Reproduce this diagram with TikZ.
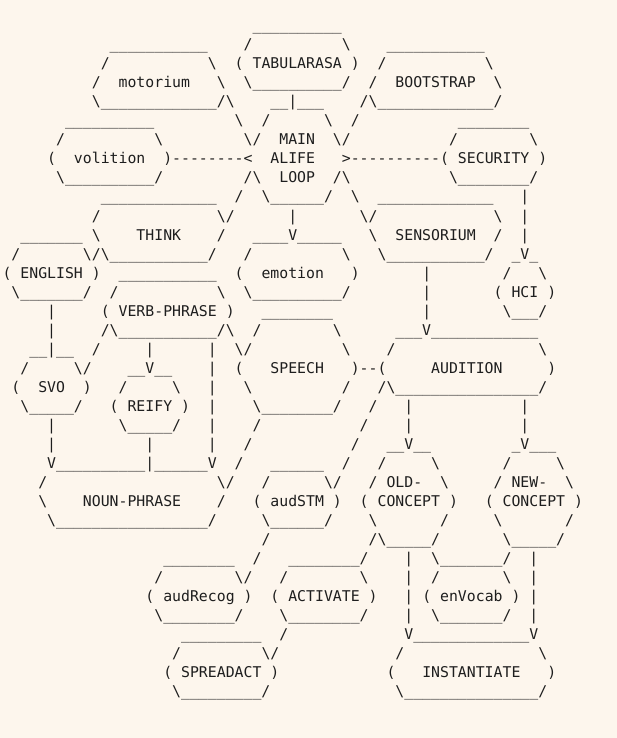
\documentclass[tikz,border=0pt]{standalone}
\usepackage{fontspec}
\usepackage{xcolor}
\usepackage{tikz}
\newfontfamily\asciifont{DejaVu Sans Mono}
\definecolor{paper}{RGB}{253,246,237}
\definecolor{ink}{RGB}{30,30,30}
\newcommand\bs{\textbackslash}
\newcommand\us[1]{\foreach\i in {1,...,#1}{\_}}
\tikzset{
  asc/.style={anchor=base west,inner sep=0pt,outer sep=0pt,text=ink,
    font=\asciifont\fontsize{14.83pt}{19pt}\selectfont},
}
% one piece of the ascii frame: column, row, characters
\newcommand\ch[3]{\node[asc] (g#1-#2) at (#1,#2) {#3};}

\begin{document}
\begin{tikzpicture}[x=8.93pt,y=-19pt]
  \fill[paper] (-2.535pt,31pt) rectangle (614.465pt,-707pt);
  \useasboundingbox (-2.535pt,31pt) rectangle (614.465pt,-707pt);
%% frame, row by row
  % row 0-4
  \ch{28}{0}{\us{10}}
  \ch{12}{1}{\us{11}} \ch{27}{1}{/} \ch{38}{1}{\bs} \ch{43}{1}{\us{11}}
  \ch{11}{2}{/} \ch{23}{2}{\bs} \ch{26}{2}{(} \ch{39}{2}{)} \ch{42}{2}{/} \ch{54}{2}{\bs}
  \ch{10}{3}{/} \ch{24}{3}{\bs} \ch{27}{3}{\bs\us{10}/} \ch{41}{3}{/} \ch{55}{3}{\bs}
  \ch{10}{4}{\bs\us{13}/\bs} \ch{30}{4}{\us{2}|\us{3}} \ch{40}{4}{/\bs\us{13}/}
  % row 5-10
  \ch{7}{5}{\us{10}} \ch{26}{5}{\bs} \ch{29}{5}{/} \ch{36}{5}{\bs} \ch{39}{5}{/} \ch{51}{5}{\us{8}}
  \ch{6}{6}{/} \ch{17}{6}{\bs} \ch{27}{6}{\bs/} \ch{37}{6}{\bs/} \ch{50}{6}{/} \ch{59}{6}{\bs}
  \ch{5}{7}{(} \ch{18}{7}{)--------<} \ch{38}{7}{>----------(} \ch{60}{7}{)}
  \ch{6}{8}{\bs\us{10}/} \ch{27}{8}{/\bs} \ch{37}{8}{/\bs} \ch{50}{8}{\bs\us{8}/}
  \ch{11}{9}{\us{13}} \ch{26}{9}{/} \ch{29}{9}{\bs\us{6}/} \ch{39}{9}{\bs} \ch{42}{9}{\us{13}} \ch{58}{9}{|}
  \ch{10}{10}{/} \ch{24}{10}{\bs/} \ch{32}{10}{|} \ch{40}{10}{\bs/} \ch{55}{10}{\bs} \ch{58}{10}{|}
  % row 11-16
  \ch{2}{11}{\us{7}} \ch{10}{11}{\bs} \ch{24}{11}{/} \ch{28}{11}{\us{4}V\us{5}} \ch{41}{11}{\bs} \ch{55}{11}{/} \ch{58}{11}{|}
  \ch{1}{12}{/} \ch{9}{12}{\bs/\bs\us{11}/} \ch{27}{12}{/} \ch{38}{12}{\bs} \ch{42}{12}{\bs\us{11}/} \ch{57}{12}{\_V\_}
  \ch{0}{13}{(} \ch{10}{13}{)} \ch{13}{13}{\us{11}} \ch{26}{13}{(} \ch{39}{13}{)} \ch{47}{13}{|} \ch{56}{13}{/} \ch{60}{13}{\bs}
  \ch{1}{14}{\bs\us{7}/} \ch{12}{14}{/} \ch{24}{14}{\bs} \ch{27}{14}{\bs\us{10}/} \ch{47}{14}{|} \ch{55}{14}{(} \ch{61}{14}{)}
  \ch{5}{15}{|} \ch{11}{15}{(} \ch{25}{15}{)} \ch{29}{15}{\us{8}} \ch{47}{15}{|} \ch{56}{15}{\bs\us{3}/}
  \ch{5}{16}{|} \ch{11}{16}{/\bs\us{11}/\bs} \ch{28}{16}{/} \ch{37}{16}{\bs} \ch{44}{16}{\us{3}V\us{12}}
  % row 17-22
  \ch{3}{17}{\us{2}|\us{2}} \ch{10}{17}{/} \ch{16}{17}{|} \ch{23}{17}{|} \ch{26}{17}{\bs/} \ch{38}{17}{\bs} \ch{43}{17}{/} \ch{60}{17}{\bs}
  \ch{2}{18}{/} \ch{8}{18}{\bs/} \ch{14}{18}{\us{2}V\us{2}} \ch{23}{18}{|} \ch{26}{18}{(} \ch{39}{18}{)--(} \ch{61}{18}{)}
  \ch{1}{19}{(} \ch{9}{19}{)} \ch{13}{19}{/} \ch{19}{19}{\bs} \ch{23}{19}{|} \ch{27}{19}{\bs} \ch{38}{19}{/} \ch{42}{19}{/\bs\us{16}/}
  \ch{2}{20}{\bs\us{5}/} \ch{12}{20}{(} \ch{20}{20}{)} \ch{23}{20}{|} \ch{28}{20}{\bs\us{8}/} \ch{41}{20}{/} \ch{45}{20}{|} \ch{58}{20}{|}
  \ch{5}{21}{|} \ch{13}{21}{\bs\us{5}/} \ch{23}{21}{|} \ch{28}{21}{/} \ch{40}{21}{/} \ch{45}{21}{|} \ch{58}{21}{|}
  \ch{5}{22}{|} \ch{16}{22}{|} \ch{23}{22}{|} \ch{27}{22}{/} \ch{39}{22}{/} \ch{43}{22}{\us{2}V\us{2}} \ch{57}{22}{\_V\us{3}}
  % row 23-28
  \ch{5}{23}{V\us{10}|\us{6}V} \ch{26}{23}{/} \ch{30}{23}{\us{6}} \ch{38}{23}{/} \ch{42}{23}{/} \ch{48}{23}{\bs} \ch{56}{23}{/} \ch{62}{23}{\bs}
  \ch{4}{24}{/} \ch{24}{24}{\bs/} \ch{29}{24}{/} \ch{36}{24}{\bs/} \ch{41}{24}{/} \ch{49}{24}{\bs} \ch{55}{24}{/} \ch{63}{24}{\bs}
  \ch{4}{25}{\bs} \ch{24}{25}{/} \ch{28}{25}{(} \ch{37}{25}{)} \ch{40}{25}{(} \ch{50}{25}{)} \ch{54}{25}{(} \ch{64}{25}{)}
  \ch{5}{26}{\bs\us{17}/} \ch{29}{26}{\bs\us{6}/} \ch{41}{26}{\bs} \ch{49}{26}{/} \ch{55}{26}{\bs} \ch{63}{26}{/}
  \ch{29}{27}{/} \ch{41}{27}{/\bs\us{5}/} \ch{56}{27}{\bs\us{5}/}
  \ch{18}{28}{\us{8}} \ch{28}{28}{/} \ch{32}{28}{\us{8}/} \ch{45}{28}{|} \ch{48}{28}{\bs\us{7}/} \ch{59}{28}{|}
  % row 29-35
  \ch{17}{29}{/} \ch{26}{29}{\bs/} \ch{31}{29}{/} \ch{40}{29}{\bs} \ch{45}{29}{|} \ch{48}{29}{/} \ch{56}{29}{\bs} \ch{59}{29}{|}
  \ch{16}{30}{(} \ch{27}{30}{)} \ch{30}{30}{(} \ch{41}{30}{)} \ch{45}{30}{|} \ch{47}{30}{(} \ch{57}{30}{)} \ch{59}{30}{|}
  \ch{17}{31}{\bs\us{8}/} \ch{31}{31}{\bs\us{8}/} \ch{45}{31}{|} \ch{48}{31}{\bs\us{7}/} \ch{59}{31}{|}
  \ch{20}{32}{\us{9}} \ch{31}{32}{/} \ch{45}{32}{V\us{13}V}
  \ch{19}{33}{/} \ch{29}{33}{\bs/} \ch{44}{33}{/} \ch{60}{33}{\bs}
  \ch{18}{34}{(} \ch{30}{34}{)} \ch{43}{34}{(} \ch{61}{34}{)}
  \ch{19}{35}{\bs\us{9}/} \ch{44}{35}{\bs\us{15}/}
%% labels
  \node[asc] (tabularasa) at (28,2) {TABULARASA};
  \node[asc] (motorium) at (13,3) {motorium};
  \node[asc] (bootstrap) at (44,3) {BOOTSTRAP};
  \node[asc] (main) at (31,6) {MAIN};
  \node[asc] (volition) at (8,7) {volition};
  \node[asc] (alife) at (30,7) {ALIFE};
  \node[asc] (security) at (51,7) {SECURITY};
  \node[asc] (loop) at (31,8) {LOOP};
  \node[asc] (think) at (15,11) {THINK};
  \node[asc] (sensorium) at (44,11) {SENSORIUM};
  \node[asc] (english) at (2,13) {ENGLISH};
  \node[asc] (emotion) at (29,13) {emotion};
  \node[asc] (hci) at (57,14) {HCI};
  \node[asc] (verbphrase) at (13,15) {VERB-PHRASE};
  \node[asc] (speech) at (30,18) {SPEECH};
  \node[asc] (audition) at (48,18) {AUDITION};
  \node[asc] (svo) at (4,19) {SVO};
  \node[asc] (reify) at (14,20) {REIFY};
  \node[asc] (old) at (43,24) {OLD-};
  \node[asc] (new) at (57,24) {NEW-};
  \node[asc] (nounphrase) at (9,25) {NOUN-PHRASE};
  \node[asc] (audstm) at (30,25) {audSTM};
  \node[asc] (oldconcept) at (42,25) {CONCEPT};
  \node[asc] (newconcept) at (56,25) {CONCEPT};
  \node[asc] (audrecog) at (18,30) {audRecog};
  \node[asc] (activate) at (32,30) {ACTIVATE};
  \node[asc] (envocab) at (49,30) {enVocab};
  \node[asc] (spreadact) at (20,34) {SPREADACT};
  \node[asc] (instantiate) at (47,34) {INSTANTIATE};
%
\end{tikzpicture}
\end{document}
